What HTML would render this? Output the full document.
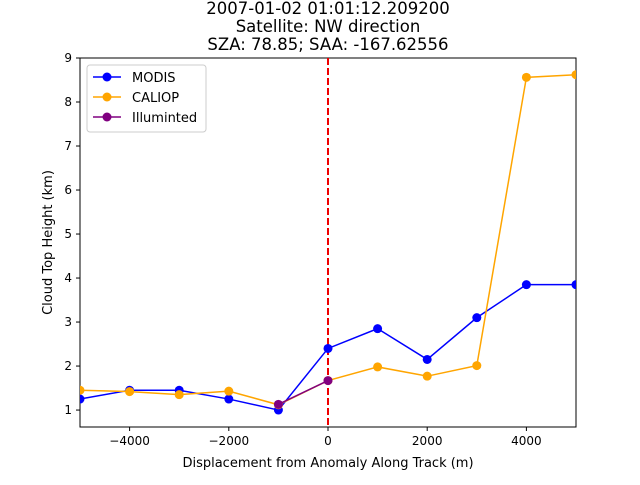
<!DOCTYPE html>
<html><head><meta charset="utf-8"><style>
body{margin:0;background:#fff;}
svg{font-family:"DejaVu Sans","Liberation Sans",sans-serif;}
</style></head><body>
<svg id="chart" width="640" height="480" xmlns="http://www.w3.org/2000/svg">
<rect width="640" height="480" fill="#fff"/>
<g id="title" font-size="16.5" text-anchor="middle" fill="#000">
<text x="328" y="14">2007-01-02 01:01:12.209200</text>
<text x="328" y="32">Satellite: NW direction</text>
<text x="328" y="50">SZA: 78.85; SAA: -167.62556</text>
</g>
<g id="plot"></g>
</svg>
<script>
const xVals=[-5000,-4000,-3000,-2000,-1000,0,1000,2000,3000,4000,5000];
const modis=[1.25,1.45,1.45,1.25,1.0,2.4,2.85,2.15,3.1,3.85,3.85];
const caliop=[1.45,1.42,1.35,1.43,1.12,1.67,1.98,1.77,2.01,8.56,8.62];
const illumX=[-1000,0];
const illumY=[1.13,1.67];
const xTicks=[-4000,-2000,0,2000,4000];
const yTicks=[1,2,3,4,5,6,7,8,9];
const L=80,R=576,T=58,B=427;
const xMin=-5000,xMax=5000,yMin=0.615,yMax=9;
const sx=v=>L+(v-xMin)/(xMax-xMin)*(R-L);
const sy=v=>B-(v-yMin)/(yMax-yMin)*(B-T);
const NS="http://www.w3.org/2000/svg";
const g=document.getElementById('plot');
function mk(t,a,p){const e=document.createElementNS(NS,t);for(const k in a)e.setAttribute(k,a[k]);(p||g).appendChild(e);return e;}
const fr=mk('rect',{x:L,y:T,width:R-L,height:B-T,fill:'none',stroke:'#000','stroke-width':1});


xTicks.forEach(v=>{
 const t=mk('line',{x1:sx(v),x2:sx(v),y1:B,y2:B+4,stroke:'#000'});
 
 
 const l=mk('text',{x:sx(v),y:B+18,'font-size':12,'text-anchor':'middle'});l.textContent=v<0?'\u2212'+(-v):v;
 
 
});
yTicks.forEach(v=>{
 const t=mk('line',{x1:L-4,x2:L,y1:sy(v),y2:sy(v),stroke:'#000'});
 
 
 const l=mk('text',{x:L-8,y:sy(v)+4,'font-size':12,'text-anchor':'end'});l.textContent=v;
 
 
});
const xl=mk('text',{x:(L+R)/2,y:467,'font-size':13,'text-anchor':'middle'});xl.textContent='Displacement from Anomaly Along Track (m)';


const yl=mk('text',{x:0,y:0,'font-size':13,'text-anchor':'middle',transform:`translate(52,${(T+B)/2}) rotate(-90)`});yl.textContent='Cloud Top Height (km)';


const clip=mk('clipPath',{id:'c'});mk('rect',{x:L,y:T,width:R-L,height:B-T},clip);
const vl=mk('line',{x1:sx(0),x2:sx(0),y1:T,y2:B,stroke:'#e00','stroke-width':2,'stroke-dasharray':'7,3'});


function series(xs,ys,col,name){
 const sg=mk('g',{'clip-path':'url(#c)'});
 
 
 mk('polyline',{points:xs.map((x,i)=>sx(x)+','+sy(ys[i])).join(' '),fill:'none',stroke:col,'stroke-width':1.5},sg);
 xs.forEach((x,i)=>{const c=mk('circle',{cx:sx(x),cy:sy(ys[i]),r:4.5,fill:col},sg);
  
  });
}
series(xVals,modis,'#0000ff','modis');
series(xVals,caliop,'#ffa500','caliop');
series(illumX,illumY,'#800080','illuminated');
const lg=mk('g',{});


mk('rect',{x:87,y:65,width:119,height:67,fill:'#fff',stroke:'#ccc',rx:3},lg);
[['MODIS','#0000ff'],['CALIOP','#ffa500'],['Illuminted','#800080']].forEach((e,i)=>{
 const y=77+i*20;
 const eg=mk('g',{},lg);
 
 
 mk('line',{x1:93,x2:121,y1:y,y2:y,stroke:e[1],'stroke-width':1.5},eg);
 mk('circle',{cx:107,cy:y,r:4.5,fill:e[1]},eg);
 const t=mk('text',{x:132,y:y+5,'font-size':13},eg);t.textContent=e[0];
});
</script>
</body></html>
